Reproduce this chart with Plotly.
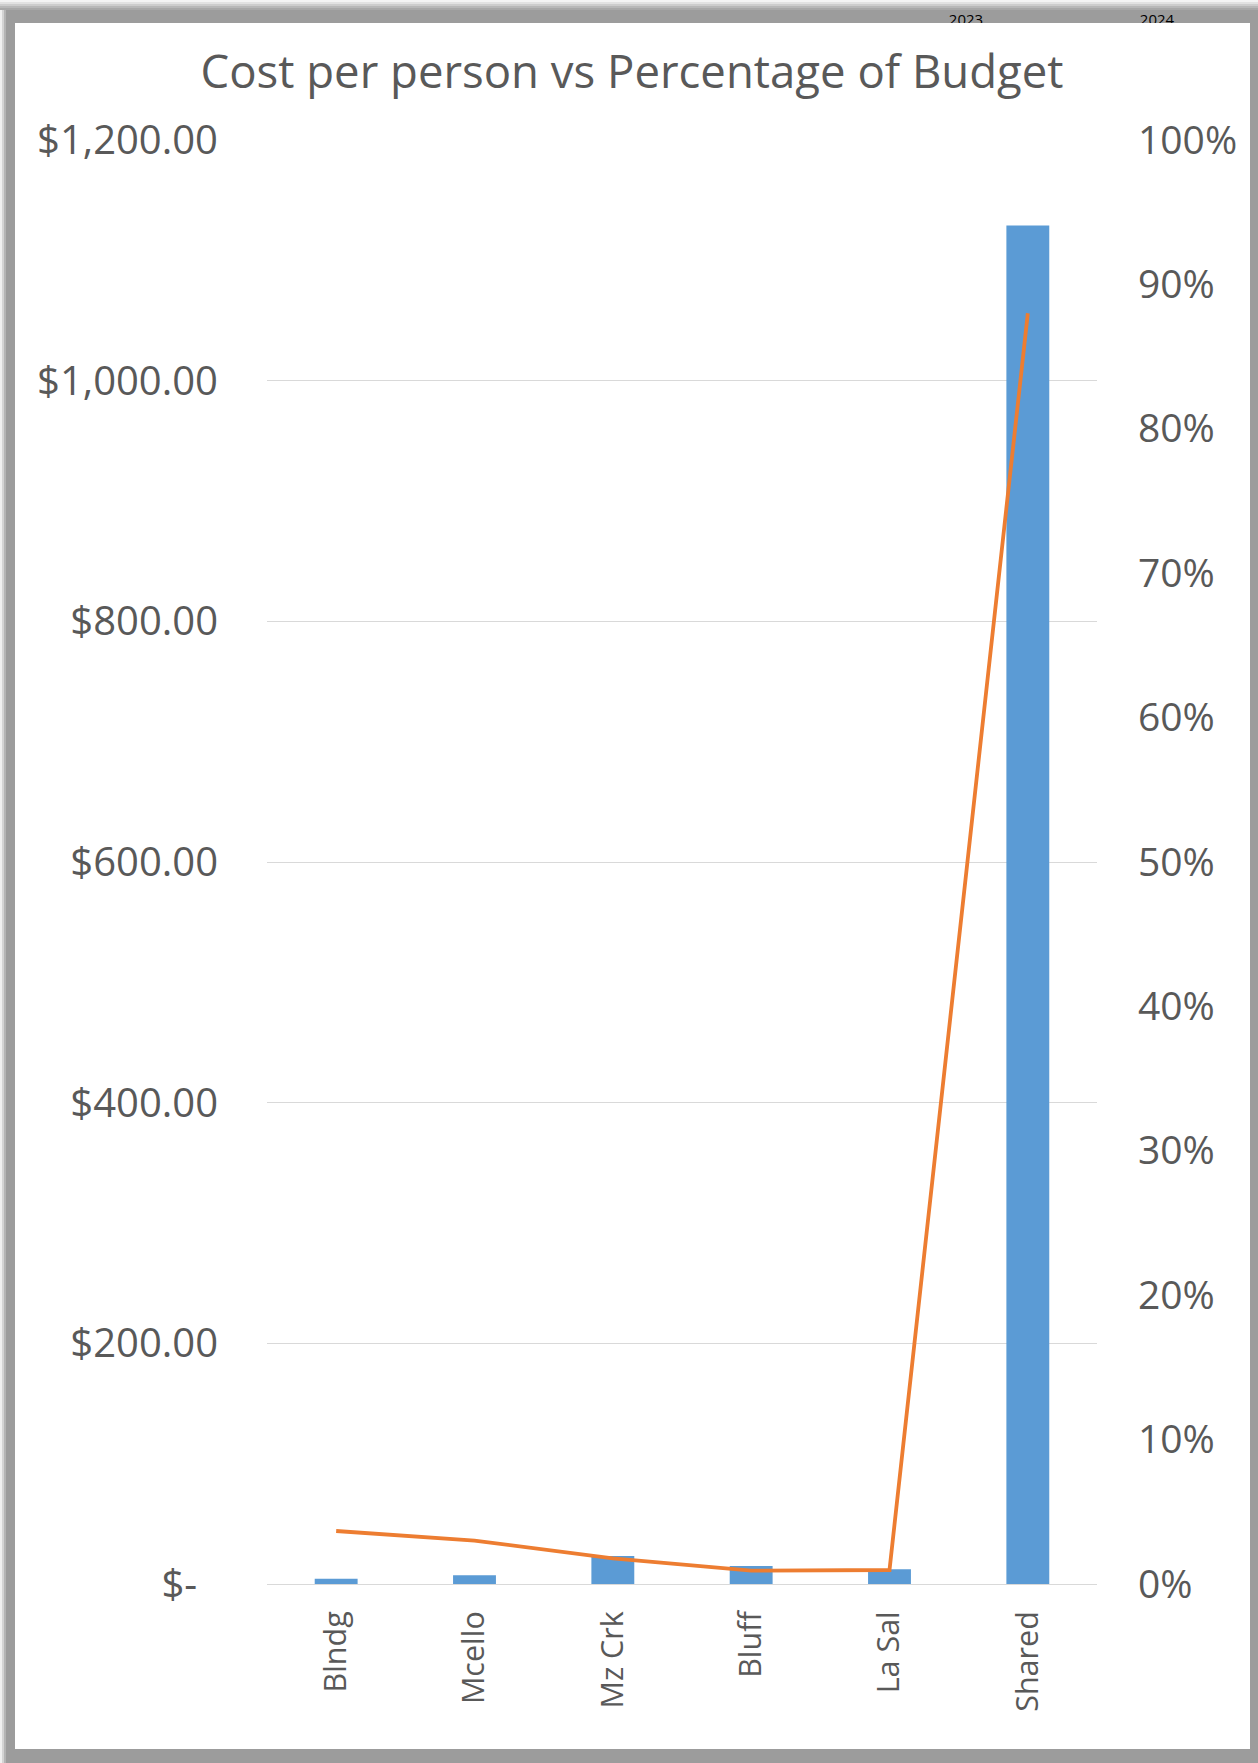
import plotly.graph_objects as go

W, H = 1258, 1763

categories = ["Blndg", "Mcello", "Mz Crk", "Bluff", "La Sal", "Shared"]
cost_per_person = [4.4, 7.2, 23.3, 15.0, 12.2, 1129.0]
pct_of_budget = [0.0367, 0.030, 0.0178, 0.0092, 0.0097, 0.880]

cost_ticks = [0, 200, 400, 600, 800, 1000, 1200]
cost_ticktext = ["$-\u00a0\u00a0", "$200.00", "$400.00", "$600.00", "$800.00",
                 "$1,000.00", "$1,200.00"]
pct_ticks = [i / 10 for i in range(11)]

# clipped header text peeking above the chart frame
header_labels = ["2023", "2024"]
header_x = [966, 1157]

GREY = "#595959"
FONT = "Open Sans"


def px_x(x):
    return x / W


def px_y(y):
    return 1 - y / H


fig = go.Figure()
fig.add_trace(go.Bar(
    x=categories, y=cost_per_person, marker_color="#5b9bd5",
    marker_line_width=0, name="Cost per person",
))
fig.add_trace(go.Scatter(
    x=categories, y=pct_of_budget, mode="lines", yaxis="y2",
    line=dict(color="#ed7d31", width=3.8), name="Percentage of Budget",
))
fig.add_trace(go.Scatter(
    x=header_x, y=[21, 21], mode="text", text=header_labels,
    textfont=dict(family=FONT, size=15, color="#000000"),
    xaxis="x3", yaxis="y3", cliponaxis=True, showlegend=False, hoverinfo="skip",
))

shapes = [
    # white chart area inside the grey frame
    dict(type="rect", xref="paper", yref="paper", layer="below",
         x0=px_x(15), x1=px_x(1250), y0=px_y(1749), y1=px_y(23),
         fillcolor="white", line_width=0),
]
# soft outer fade on the top and left edges of the frame
for i, c in enumerate(["#f4f4f4", "#e2e2e2", "#cdcdcd", "#b8b8b8", "#a8a8a8"]):
    shapes.append(dict(type="rect", xref="paper", yref="paper", layer="below",
                       x0=0, x1=1, y0=px_y(2 * i + 2), y1=px_y(2 * i),
                       fillcolor=c, line_width=0))
for i, c in enumerate(["#f0f0f0", "#d4d4d4", "#b4b4b4"]):
    shapes.append(dict(type="rect", xref="paper", yref="paper", layer="below",
                       x0=px_x(2 * i), x1=px_x(2 * i + 2), y0=px_y(1763),
                       y1=px_y(10), fillcolor=c, line_width=0))

fig.update_layout(
    template="none",
    width=W, height=H,
    margin=dict(l=0, r=0, t=0, b=0),
    paper_bgcolor="#9c9c9c",
    plot_bgcolor="rgba(0,0,0,0)",
    showlegend=False,
    bargap=0.69,
    font=dict(family=FONT, color=GREY),
    title=dict(
        text="Cost per person vs Percentage of Budget",
        x=632 / W, xanchor="center", y=px_y(72), yanchor="middle",
        font=dict(family=FONT, size=45.5, color=GREY), automargin=False,
    ),
    xaxis=dict(
        domain=[px_x(267), px_x(1097)], anchor="y",
        tickangle=-90, tickfont=dict(size=30.5, color=GREY),
        showgrid=False, showline=True, linecolor="#d9d9d9", linewidth=1,
        ticks="", ticklabelstandoff=14, automargin=False,
    ),
    yaxis=dict(
        domain=[px_y(1584), px_y(140)], anchor="x",
        range=[0, 1200], tickvals=cost_ticks, ticktext=cost_ticktext,
        tickfont=dict(size=40, color=GREY),
        showgrid=True, gridcolor="#d9d9d9", gridwidth=1,
        zeroline=False, showline=False, ticks="",
        ticklabelstandoff=48, automargin=False,
    ),
    yaxis2=dict(
        overlaying="y", side="right", anchor="x",
        range=[0, 1], tickvals=pct_ticks, tickformat=".0%",
        tickfont=dict(size=39, color=GREY),
        showgrid=False, zeroline=False, showline=False, ticks="",
        ticklabelstandoff=40, automargin=False,
    ),
    xaxis3=dict(domain=[0, 1], anchor="y3", range=[0, W], visible=False),
    yaxis3=dict(domain=[px_y(23), 1], anchor="x3", range=[23, 0], visible=False),
    shapes=shapes,
)

fig.write_html("out.html", config={"displayModeBar": False},
               post_script="document.body.style.margin='0';")
